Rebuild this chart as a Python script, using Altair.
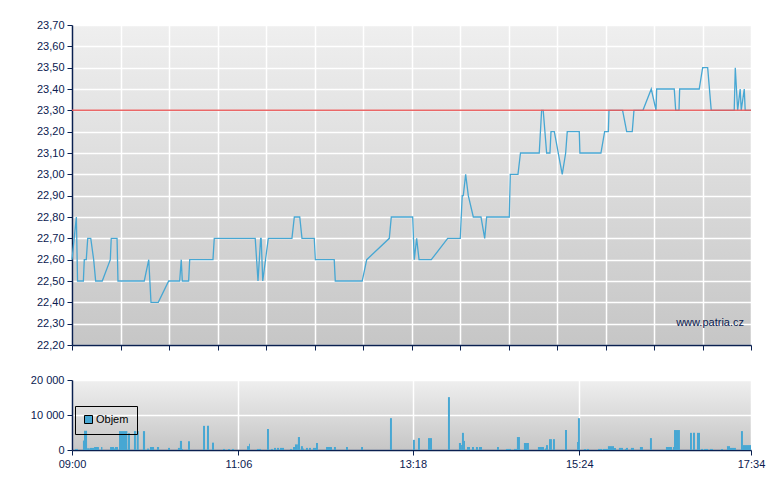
import altair as alt
import pandas as pd

# ---- price series (minutes after 09:00, price) ----
price_min = [0, 3.3, 4.2, 8.6, 9.3, 10.8, 11.9, 14.2, 16.4, 17.9, 22.9, 29.0, 29.7, 34.1, 34.8,
             54.7, 58.1, 59.8, 65.3, 73.2, 81.5, 82.7, 83.5, 88.3, 89.1, 106.7, 107.7, 138.7,
             140.8, 142.8, 143.2, 144.4, 148.6, 166.5, 168.3, 172.4, 174.1, 183.4, 184.2, 198.5,
             199.3, 219.7, 223.1, 240.2, 241.7, 257.9, 259.1, 260.9, 262.7, 272.0, 284.4, 293.9,
             295.4, 296.2, 298.0, 300.0, 303.8, 309.6, 312.4, 313.9, 331.0, 331.8, 337.6, 339.5,
             353.7, 355.5, 356.7, 359.3, 361.8, 362.6, 365.1, 371.1, 373.7, 374.9, 384.0, 384.5,
             400.4, 403.2, 406.0, 406.5, 416.8, 419.9, 424.1, 425.4, 432.2, 438.5, 442.1, 442.6,
             455.9, 457.0, 459.5, 460.0, 474.8, 477.4, 481.2, 483.9, 501.3, 502.1, 503.9, 505.8,
             506.6, 508.9, 509.6, 514]
price_val = [22.60, 22.80, 22.50, 22.50, 22.60, 22.60, 22.70, 22.70, 22.60, 22.50, 22.50, 22.60, 22.70, 22.70, 22.50,
             22.50, 22.60, 22.40, 22.40, 22.50, 22.50, 22.60, 22.50, 22.50, 22.60, 22.60, 22.70, 22.70,
             22.50, 22.70, 22.70, 22.50, 22.70, 22.70, 22.80, 22.80, 22.70, 22.70, 22.60, 22.60,
             22.50, 22.50, 22.60, 22.70, 22.80, 22.80, 22.60, 22.70, 22.60, 22.60, 22.70, 22.70,
             22.90, 22.90, 23.00, 22.90, 22.80, 22.80, 22.70, 22.80, 22.80, 23.00, 23.00, 23.10,
             23.10, 23.30, 23.30, 23.10, 23.10, 23.20, 23.20, 23.00, 23.10, 23.20, 23.20, 23.10,
             23.10, 23.20, 23.20, 23.30, 23.30, 23.20, 23.20, 23.30, 23.30, 23.40, 23.30, 23.40,
             23.40, 23.30, 23.30, 23.40, 23.40, 23.50, 23.50, 23.30, 23.30, 23.50, 23.30, 23.40,
             23.30, 23.40, 23.30, 23.30]
prev_close = 23.30

# ---- volume bars (start minute, end minute, volume) ----
vol_start = [2.3, 8.3, 9.1, 11.4, 13.6, 16.7, 22.0, 28.8, 31.8, 32.5, 35.6, 42.4, 46.9, 49.0, 53.7,
             56.8, 59.0, 64.3, 72.7, 80.2, 81.7, 83.3, 87.8, 99.2, 102.2, 106.0, 114.3, 118.1, 121.1,
             132.5, 134.0, 140.0, 147.6, 150.6, 152.9, 155.2, 157.4, 165.0, 167.3, 168.8, 171.0,
             173.3, 174.8, 177.1, 179.4, 182.4, 184.7, 192.3, 198.3, 207.4, 218.8, 240.7, 258.1,
             261.9, 269.5, 284.6, 292.9, 294.5, 295.2, 296.7, 299.0, 302.8, 305.8, 308.1, 321.7,
             328.5, 334.6, 336.8, 342.1, 344.4, 352.7, 358.0, 358.8, 361.1, 364.1, 373.2, 382.3,
             383.0, 387.5, 389.8, 398.2, 401.9, 405.7, 408.8, 410.3, 414.0, 418.6, 419.3, 423.1,
             429.9, 437.5, 449.6, 454.9, 455.7, 467.8, 470.1, 473.1, 476.2, 478.5, 483.0, 491.3,
             495.8, 498.1, 499.6, 506.4, 507.9]
vol_end = [4.5, 9.1, 11.4, 13.4, 16.7, 20.4, 23.0, 31.8, 32.5, 34.8, 41.9, 43.9, 48.4, 50.5, 55.3,
           58.3, 62.1, 65.9, 74.2, 81.7, 83.3, 84.0, 89.3, 100.7, 103.7, 107.5, 115.8, 119.6, 122.6,
           134.0, 134.7, 143.1, 149.1, 152.1, 154.4, 156.7, 160.5, 166.5, 168.8, 171.0, 172.6,
           174.8, 175.5, 178.6, 180.9, 184.7, 186.2, 196.8, 199.8, 208.9, 220.3, 242.2, 259.6,
           263.4, 272.5, 286.1, 294.5, 295.2, 296.7, 297.5, 301.3, 304.3, 307.3, 310.4, 323.2,
           332.3, 336.8, 339.1, 344.4, 345.9, 357.3, 358.8, 360.3, 363.3, 365.6, 374.7, 383.0,
           384.5, 389.1, 391.4, 401.2, 405.7, 408.8, 410.3, 411.8, 417.1, 419.3, 420.9, 425.4,
           432.2, 439.0, 454.2, 455.7, 460.2, 469.3, 471.6, 475.4, 477.7, 481.5, 485.2, 492.8,
           498.1, 499.6, 502.6, 507.9, 514.0]
vol_val = [300, 2700, 5500, 500, 600, 850, 850, 850, 400, 850, 5400, 4800, 5400, 5400, 5400,
           400, 850, 850, 600, 600, 2600, 300, 2500, 6900, 6900, 2100, 300, 300, 300,
           1100, 1800, 300, 6000, 300, 600, 600, 600, 300, 850, 1600, 3700,
           1100, 400, 600, 600, 600, 2000, 850, 850, 850, 850, 9100, 2900,
           3400, 3400, 15100, 2000, 1400, 4900, 2600, 850, 850, 850, 850, 850,
           300, 300, 3700, 2000, 2000, 850, 400, 1400, 3100, 3100, 5700, 2300,
           9100, 300, 300, 300, 300, 1100, 1100, 600, 600, 300, 600, 600,
           850, 3400, 850, 850, 5700, 4900, 4900, 4900, 300, 300, 300, 300,
           1100, 600, 600, 5400, 1400]

y_ticks = [round(22.2 + 0.1 * i, 2) for i in range(16)]
top_x_ticks = [514 * i / 14 for i in range(15)]
bottom_x_ticks = [0, 126, 258, 384, 514]
vol_ticks = [0, 10000, 20000]

NAVY = "#0a2050"
BLUE = "#47a7d3"
FONT = "Liberation Sans"
W = 679
TOP_H = 320
BOT_H = 70
GAP = 34  # distance between the two plot areas

price_df = pd.DataFrame({"t": price_min, "p": price_val})
vol_df = pd.DataFrame({"t0": vol_start, "t1": vol_end, "v": vol_val, "s": "Objem"})
ref_df = pd.DataFrame({"p": [prev_close]})

time_expr = "timeFormat(datetime(2000, 0, 1, 9, datum.value), '%H:%M')"

x_top = alt.X("t:Q", scale=alt.Scale(domain=[0, 514], nice=False, zero=False),
              axis=alt.Axis(values=top_x_ticks, labels=False, title=None, tickSize=5,
                            grid=True, gridColor="white", gridWidth=1.5,
                            domainColor=NAVY, tickColor=NAVY, domainWidth=1.5))
y_top = alt.Y("p:Q", scale=alt.Scale(domain=[22.2, 23.7], nice=False, zero=False),
              axis=alt.Axis(values=y_ticks, title=None, tickSize=5, labelOverlap=False,
                            tickCount=16,
                            labelExpr="replace(format(datum.value, '.2f'), '.', ',')",
                            grid=True, gridColor="white", gridWidth=1.5,
                            domainColor=NAVY, tickColor=NAVY, domainWidth=1.5,
                            labelColor=NAVY, labelFont=FONT, labelFontSize=11, labelPadding=3))

line = alt.Chart(price_df).mark_line(color=BLUE, strokeWidth=1.3).encode(x=x_top, y=y_top)
ref = alt.Chart(ref_df).mark_rule(
    color="#e85858", strokeWidth=1.5, opacity=0.9).encode(y=y_top)
wm = alt.Chart(pd.DataFrame({"txt": ["www.patria.cz"]})).mark_text(
    align="right", baseline="middle", font=FONT, fontSize=11, color=NAVY).encode(
    text="txt:N", x=alt.value(W - 7), y=alt.value(298))

top = alt.layer(line, ref, wm).properties(width=W, height=TOP_H)

x_bot = alt.X("t0:Q", scale=alt.Scale(domain=[0, 514], nice=False, zero=False),
              axis=alt.Axis(values=bottom_x_ticks, title=None, tickSize=5, labelExpr=time_expr,
                            grid=True, gridColor="white", gridWidth=1.5,
                            domainColor=NAVY, tickColor=NAVY, domainWidth=1.5,
                            labelColor=NAVY, labelFont=FONT, labelFontSize=11,
                            labelPadding=3, labelFlush=False))
y_bot = alt.Y("v:Q", scale=alt.Scale(domain=[0, 20000], nice=False),
              axis=alt.Axis(values=vol_ticks, title=None, tickSize=5, labelOverlap=False,
                            labelExpr="replace(format(datum.value, ','), ',', ' ')",
                            grid=True, gridColor="white", gridWidth=1.5,
                            domainColor=NAVY, tickColor=NAVY, domainWidth=1.5,
                            labelColor=NAVY, labelFont=FONT, labelFontSize=11, labelPadding=3))

bars = alt.Chart(vol_df).mark_rect().encode(
    x=x_bot, x2="t1:Q", y=y_bot, y2=alt.datum(0),
    color=alt.Color("s:N", scale=alt.Scale(domain=["Objem"], range=[BLUE]),
                    legend=alt.Legend(orient="none", legendX=3, legendY=TOP_H + GAP + 27,
                                      title=None,
                                      strokeColor="black", padding=8, symbolType="square",
                                      symbolSize=64, symbolStrokeColor="black",
                                      symbolStrokeWidth=1, labelFont=FONT, labelFontSize=11,
                                      labelColor="black", labelOffset=2, cornerRadius=0,
                                      symbolOpacity=1)))
bottom = alt.layer(bars).properties(width=W, height=BOT_H)

bg = {"expr": "{gradient: 'linear', x1: 0, y1: 0, x2: 0, y2: 1, stops: [{offset: 0, color: '#efefef'}, {offset: 1, color: '#c6c6c6'}]}"}

chart = alt.vconcat(top, bottom, spacing=23).properties(
    padding={"left": 22, "top": 11, "right": 5, "bottom": 5},
    background="white",
).configure_view(stroke=None, fill=bg)

chart.save("out.html", embed_options={"renderer": "svg", "actions": False})
